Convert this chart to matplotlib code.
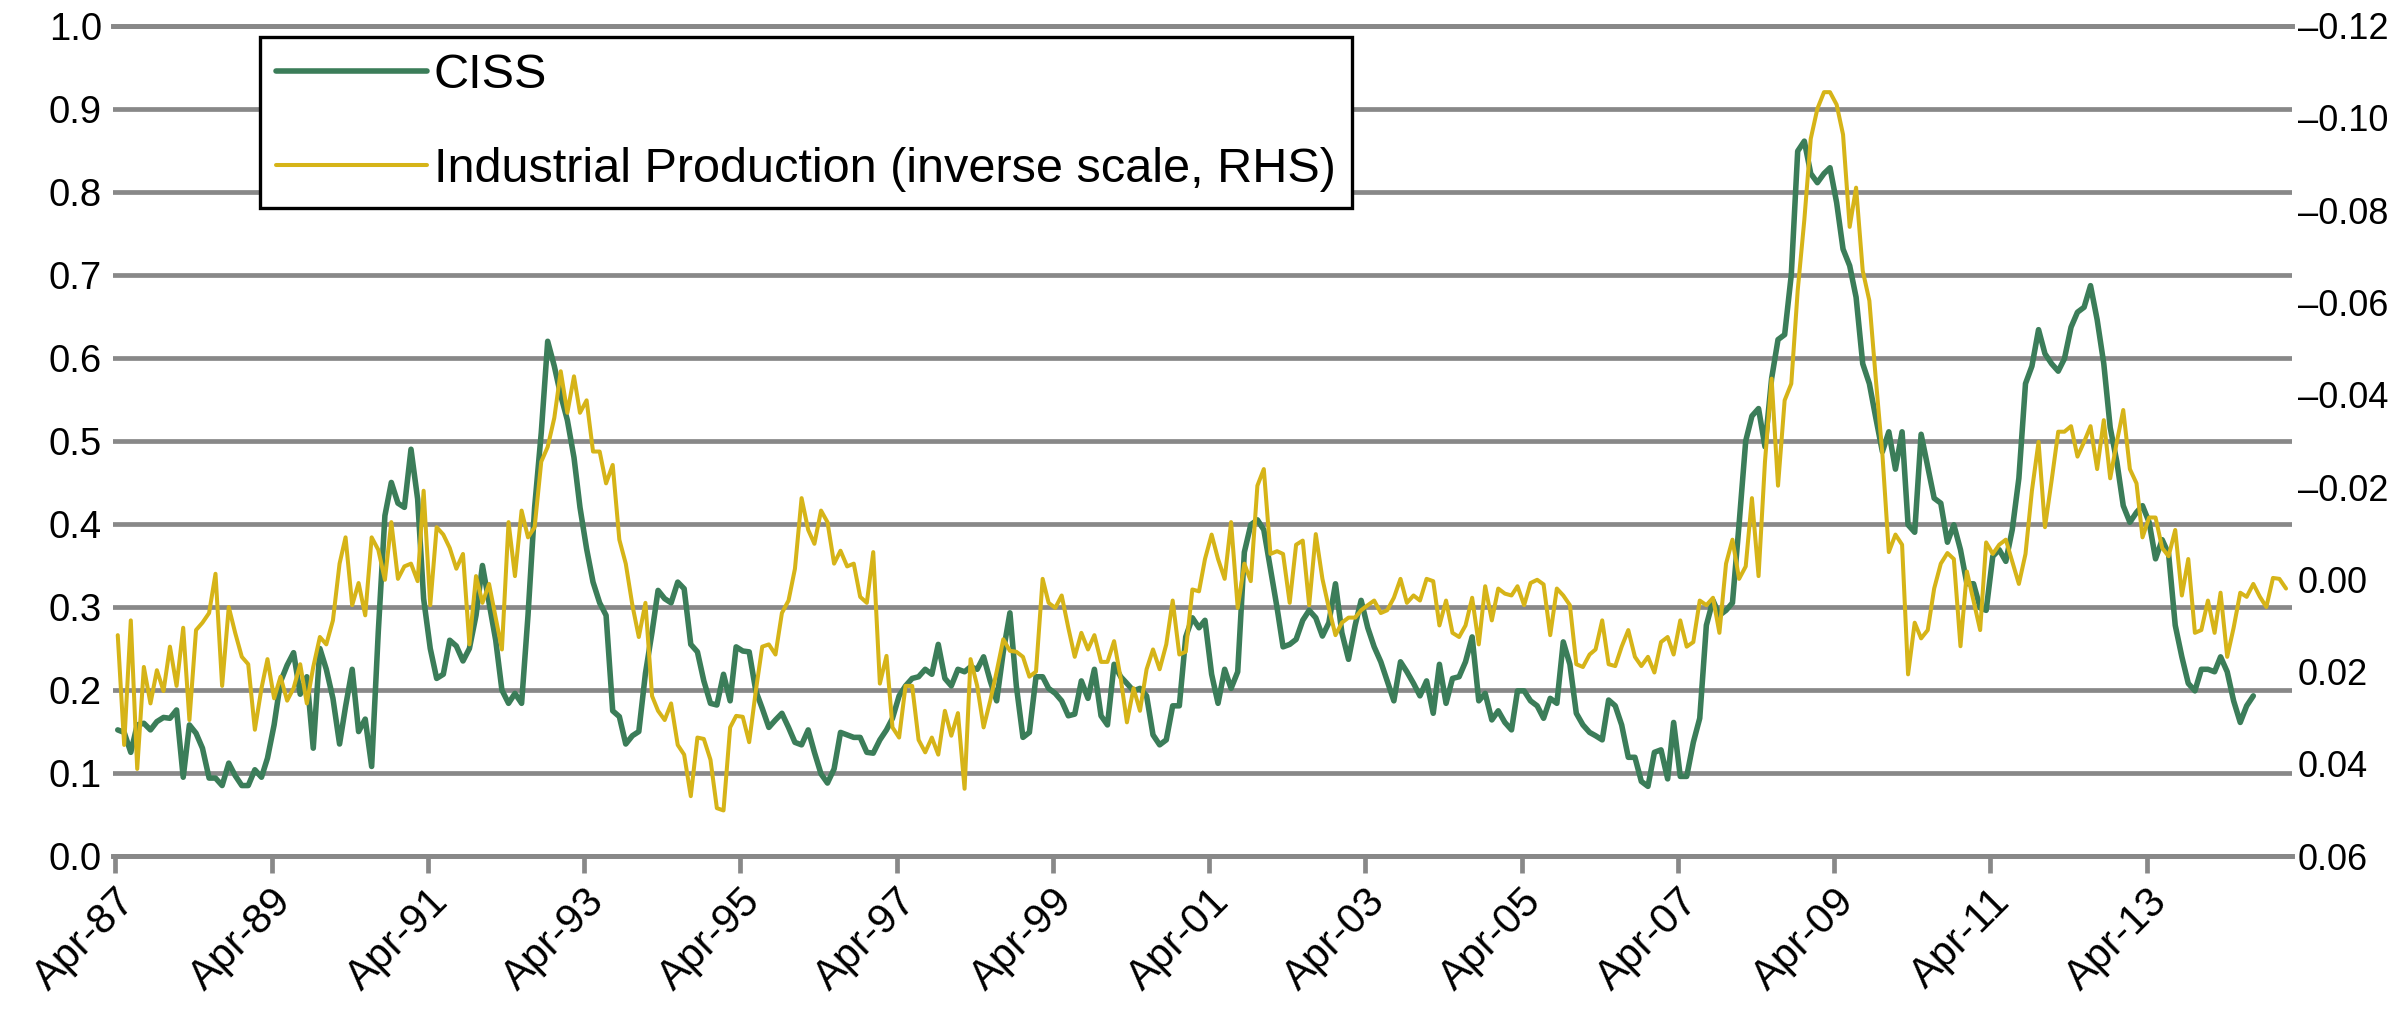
import pandas as pd
from matplotlib import pyplot as plt

# CISS, monthly from Apr-87 (left axis)
ciss = [
    0.152, 0.149, 0.125, 0.158, 0.160, 0.152, 0.162, 0.167, 0.166, 0.176,
    0.095, 0.158, 0.148, 0.130, 0.094, 0.094, 0.085, 0.112, 0.097, 0.085,
    0.085, 0.104, 0.095, 0.118, 0.158, 0.210, 0.230, 0.245, 0.195, 0.216,
    0.130, 0.250, 0.225, 0.190, 0.135, 0.180, 0.225, 0.150, 0.165, 0.108,
    0.270, 0.410, 0.450, 0.425, 0.420, 0.490, 0.430, 0.310, 0.250, 0.214,
    0.219, 0.260, 0.253, 0.235, 0.250, 0.290, 0.350, 0.305, 0.260, 0.200,
    0.184, 0.196, 0.184, 0.290, 0.420, 0.510, 0.620, 0.590, 0.555, 0.525,
    0.480, 0.420, 0.370, 0.330, 0.305, 0.290, 0.175, 0.168, 0.135, 0.145,
    0.150, 0.220, 0.270, 0.320, 0.310,
    0.305, 0.330, 0.322, 0.255, 0.246, 0.211, 0.184, 0.182,
    0.219, 0.187, 0.252, 0.247, 0.246, 0.199, 0.178, 0.155, 0.164, 0.172,
    0.155, 0.137, 0.134, 0.152, 0.125, 0.099, 0.088, 0.105, 0.149, 0.146,
    0.143, 0.143, 0.125, 0.124, 0.140, 0.152, 0.166, 0.193, 0.205, 0.214,
    0.216, 0.225, 0.219, 0.255, 0.214, 0.205, 0.225, 0.222, 0.228, 0.225,
    0.240, 0.211, 0.187, 0.246, 0.293, 0.205, 0.143, 0.149, 0.216, 0.216,
    0.202, 0.196, 0.187, 0.169, 0.171, 0.211, 0.190, 0.225, 0.169, 0.158,
    0.231, 0.216, 0.208, 0.199, 0.202, 0.193, 0.146, 0.134, 0.140, 0.181,
    0.181, 0.264, 0.287, 0.275, 0.284, 0.219,
    0.184, 0.225, 0.202, 0.222, 0.366, 0.399, 0.405, 0.393, 0.346, 0.299,
    0.252, 0.255, 0.261, 0.284, 0.296, 0.287, 0.265, 0.281, 0.328, 0.269,
    0.237, 0.278, 0.308, 0.275, 0.252, 0.234, 0.211, 0.187, 0.234, 0.222,
    0.208, 0.193, 0.211, 0.172, 0.231, 0.184, 0.214, 0.216, 0.234, 0.264,
    0.187, 0.196, 0.164, 0.175, 0.161, 0.152, 0.199, 0.199, 0.187, 0.181,
    0.166, 0.190, 0.184, 0.258, 0.231, 0.172, 0.158, 0.149, 0.145, 0.140,
    0.188, 0.181, 0.158, 0.119, 0.119, 0.090, 0.084, 0.125, 0.128, 0.093,
    0.161, 0.096, 0.096, 0.137, 0.166, 0.278, 0.308, 0.290, 0.296, 0.305,
    0.400, 0.500, 0.530,
    0.539, 0.493, 0.575, 0.622, 0.628, 0.700, 0.849, 0.861,
    0.822, 0.811, 0.822, 0.829, 0.787, 0.731, 0.711, 0.673, 0.593, 0.569,
    0.528, 0.487, 0.511, 0.466, 0.511, 0.399, 0.390, 0.508, 0.469, 0.431,
    0.425, 0.378, 0.399, 0.369, 0.328, 0.328, 0.299, 0.296, 0.361, 0.369,
    0.355, 0.393, 0.455, 0.569, 0.590, 0.634, 0.605, 0.593, 0.584, 0.599,
    0.637, 0.655, 0.661, 0.687, 0.646, 0.593, 0.516, 0.475, 0.422, 0.402,
    0.414, 0.422, 0.402, 0.358, 0.381, 0.364, 0.278, 0.240, 0.208, 0.199,
    0.225, 0.225, 0.222, 0.240, 0.222, 0.187, 0.161, 0.181, 0.193,
]

# industrial production growth, monthly from Apr-87 (right axis, inverted)
ip = [
    0.0121, 0.0359, 0.0089, 0.0411, 0.0190, 0.0269, 0.0197, 0.0242, 0.0146, 0.0231,
    0.0105, 0.0305, 0.0110, 0.0094, 0.0073, -0.0012, 0.0231, 0.0060, 0.0116, 0.0168,
    0.0184, 0.0326, 0.0236, 0.0173, 0.0258, 0.0211, 0.0263, 0.0236, 0.0184, 0.0269,
    0.0190, 0.0125, 0.0141, 0.0089, -0.0034, -0.0091, 0.0056, 0.0008, 0.0078, -0.0091,
    -0.0064, 0.0001, -0.0124, -0.0001, -0.0028, -0.0034, 0.0004, -0.0192, 0.0056, -0.0113,
    -0.0097, -0.0068, -0.0023, -0.0055, 0.0141, -0.0007, 0.0051, 0.0010, 0.0083, 0.0152,
    -0.0124, -0.0007, -0.0149, -0.0091, -0.0113, -0.0255, -0.0287, -0.0350, -0.0451, -0.0361,
    -0.0440, -0.0361, -0.0388, -0.0277, -0.0277, -0.0208, -0.0248, -0.0086, -0.0034, 0.0056,
    0.0125, 0.0051, 0.0253, 0.0285, 0.0305,
    0.0269, 0.0359, 0.0380, 0.0470, 0.0343, 0.0346, 0.0391, 0.0496, 0.0501, 0.0321,
    0.0296, 0.0298, 0.0353, 0.0242, 0.0146, 0.0141, 0.0163, 0.0073, 0.0046, -0.0023,
    -0.0176, -0.0107, -0.0077, -0.0149, -0.0124, -0.0034, -0.0062, -0.0028, -0.0034, 0.0038,
    0.0051, -0.0059, 0.0226, 0.0166, 0.0321, 0.0343, 0.0231, 0.0231, 0.0348, 0.0375,
    0.0343, 0.0380, 0.0285, 0.0339, 0.0290, 0.0454, 0.0173, 0.0231, 0.0321, 0.0263,
    0.0200, 0.0130, 0.0155, 0.0157, 0.0168, 0.0211, 0.0200, -0.0001, 0.0051, 0.0062,
    0.0035, 0.0105, 0.0168, 0.0116, 0.0152, 0.0121, 0.0179, 0.0179, 0.0134, 0.0215,
    0.0310, 0.0236, 0.0285, 0.0195, 0.0152, 0.0195, 0.0141, 0.0046, 0.0163, 0.0157,
    0.0022, 0.0026, -0.0044, -0.0097,
    -0.0044, -0.0001, -0.0124, 0.0062, -0.0034, 0.0004, -0.0203, -0.0239, -0.0055, -0.0061,
    -0.0055, 0.0051, -0.0075, -0.0084, 0.0056, -0.0098, -0.0001, 0.0062, 0.0121, 0.0094,
    0.0083, 0.0083, 0.0067, 0.0056, 0.0046, 0.0073, 0.0067, 0.0040, -0.0001, 0.0051,
    0.0035, 0.0046, -0.0001, 0.0004, 0.0100, 0.0046, 0.0116, 0.0125, 0.0100, 0.0040,
    0.0141, 0.0015, 0.0089, 0.0020, 0.0031, 0.0035, 0.0015, 0.0056, 0.0008, 0.0001,
    0.0011, 0.0121, 0.0020, 0.0035, 0.0056, 0.0184, 0.0190, 0.0163, 0.0152, 0.0089,
    0.0184, 0.0188, 0.0146, 0.0110, 0.0168, 0.0188, 0.0168, 0.0202, 0.0136, 0.0125,
    0.0163, 0.0089, 0.0146, 0.0136, 0.0046, 0.0056, 0.0040, 0.0116, -0.0034, -0.0086,
    -0.0001, -0.0028, -0.0176,
    -0.0007, -0.0255, -0.0435, -0.0203, -0.0388, -0.0424, -0.0626, -0.0779, -0.0955, -0.1020,
    -0.1056, -0.1056, -0.1029, -0.0964, -0.0764, -0.0849, -0.0669, -0.0604, -0.0435, -0.0271,
    -0.0059, -0.0097, -0.0075, 0.0206, 0.0094, 0.0128, 0.0110, 0.0020, -0.0034, -0.0057,
    -0.0044, 0.0145, -0.0017, 0.0046, 0.0110, -0.0080, -0.0055, -0.0075, -0.0086, -0.0039,
    0.0010, -0.0055, -0.0192, -0.0298, -0.0113, -0.0214, -0.0320, -0.0320, -0.0332, -0.0266,
    -0.0298, -0.0332, -0.0239, -0.0345, -0.0219, -0.0298, -0.0367, -0.0239, -0.0208, -0.0091,
    -0.0134, -0.0134, -0.0068, -0.0050, -0.0107, 0.0035, -0.0044, 0.0116, 0.0110, 0.0046,
    0.0116, 0.0029, 0.0168, 0.0105, 0.0029, 0.0038, 0.0010, 0.0038, 0.0060, -0.0003,
    -0.0001, 0.0020,
]

left_ticks = [0.0, 0.1, 0.2, 0.3, 0.4, 0.5, 0.6, 0.7, 0.8, 0.9, 1.0]
right_ticks = [0.06, 0.04, 0.02, 0.0, -0.02, -0.04, -0.06, -0.08, -0.10, -0.12]
tick_years = list(range(1987, 2014, 2))

green = '#3b7d59'
yellow = '#d6b418'
grey = '#888888'

plt.rcParams['font.family'] = ['Liberation Sans', 'DejaVu Sans']

ciss_dates = pd.date_range('1987-04-01', periods=len(ciss), freq='MS') + pd.Timedelta(days=12)
ip_dates = pd.date_range('1987-04-01', periods=len(ip), freq='MS') + pd.Timedelta(days=12)

fig = plt.figure(figsize=(23.95, 10.29), dpi=100)
ax = fig.add_axes([0.0472, 0.168, 0.9098, 0.807])
ax2 = ax.twinx()

l1, = ax.plot(ciss_dates, ciss, color=green, lw=4.0, label='CISS', solid_capstyle='round')
l2, = ax2.plot(ip_dates, ip, color=yellow, lw=2.9, label='Industrial Production (inverse scale, RHS)',
               solid_capstyle='round')

ax.set_ylim(0, 1.0)
ax2.set_ylim(0.06, -0.12)
ax.set_xlim(pd.Timestamp('1987-03-22'), pd.Timestamp('2015-02-10'))

ax.set_yticks(left_ticks)
ax.set_yticklabels([f'{v:.1f}' for v in left_ticks])
ax2.set_yticks(right_ticks)
ax2.set_yticklabels([f'{v:.2f}'.replace('-', '\u2013') for v in right_ticks])

xt = [pd.Timestamp(f'{y}-04-01') for y in tick_years]
ax.set_xticks(xt)
ax.set_xticklabels([d.strftime('%b-%y') for d in xt], rotation=45, ha='right',
                   rotation_mode='anchor')

ax.grid(axis='y', color=grey, lw=3.4)
ax.set_axisbelow(True)
for a in (ax, ax2):
    a.spines['left'].set_visible(False)
    a.spines['right'].set_visible(False)
    a.spines['top'].set_color(grey)
    a.spines['top'].set_linewidth(3.4)
    a.spines['bottom'].set_color(grey)
    a.spines['bottom'].set_linewidth(3.4)

ax.tick_params(axis='y', length=0, labelsize=27.5, pad=8)
ax2.tick_params(axis='y', length=0, labelsize=26, pad=4)
ax.tick_params(axis='x', length=12, width=3.4, color=grey, labelsize=30, pad=6)

leg = ax2.legend(handles=[l1, l2], loc='upper left', bbox_to_anchor=(0.1085, 0.964),
                 bbox_transform=fig.transFigure, borderaxespad=0, fontsize=35,
                 frameon=True, fancybox=False, edgecolor='black', framealpha=1,
                 borderpad=0.33, labelspacing=1.0, handlelength=3.1, handletextpad=0.15)
leg.get_frame().set_linewidth(2.4)

fig.savefig('out.png', dpi=100)
